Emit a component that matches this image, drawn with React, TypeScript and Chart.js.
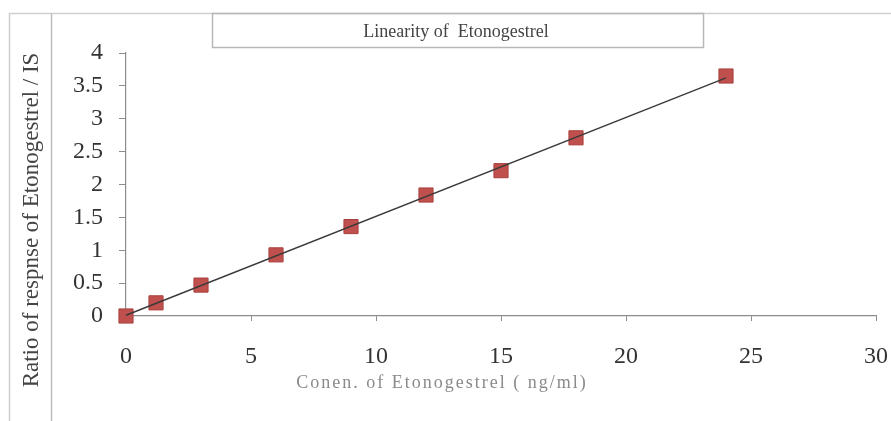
import React, { useEffect, useRef } from "react";
import { Chart, registerables } from "chart.js";

Chart.register(...registerables);

// Calibration data: concentration (ng/ml) vs. response ratio
const concentrations = [0, 1.2, 3, 6, 9, 12, 15, 18, 24];
const responseRatios = [0, 0.2, 0.47, 0.93, 1.36, 1.84, 2.21, 2.71, 3.65];

// Axis ticks
const xTickValues = [0, 5, 10, 15, 20, 25, 30];
const yTickValues = [0, 0.5, 1, 1.5, 2, 2.5, 3, 3.5, 4];

// Texts
const chartTitle = "Linearity of  Etonogestrel";
const xAxisTitle = "Conen. of Etonogestrel ( ng/ml)";
const yAxisTitle = "Ratio of respnse of Etonogestrel / IS";

// Least-squares fit through the calibration points
function linearFit(xs: number[], ys: number[]) {
  const n = xs.length;
  const mx = xs.reduce((a, b) => a + b, 0) / n;
  const my = ys.reduce((a, b) => a + b, 0) / n;
  let sxy = 0;
  let sxx = 0;
  for (let i = 0; i < n; i++) {
    sxy += (xs[i] - mx) * (ys[i] - my);
    sxx += (xs[i] - mx) * (xs[i] - mx);
  }
  const slope = sxy / sxx;
  return { slope, intercept: my - slope * mx };
}

const SERIF = '"Liberation Serif", "Times New Roman", serif';

// Frame, title box and axis titles
const decorPlugin = {
  id: "decor",
  beforeDraw(chart: any) {
    const ctx: CanvasRenderingContext2D = chart.ctx;
    const w = chart.width;
    const h = chart.height;
    ctx.save();
    ctx.fillStyle = "#ffffff";
    ctx.fillRect(0, 0, w, h);

    // outer frame
    ctx.lineWidth = 1.5;
    ctx.strokeStyle = "#cfcfcf";
    ctx.beginPath();
    ctx.moveTo(9.5, h);
    ctx.lineTo(9.5, 13.5);
    ctx.lineTo(w, 13.5);
    ctx.stroke();

    ctx.strokeStyle = "#bdbdbd";
    ctx.beginPath();
    ctx.moveTo(51.5, h);
    ctx.lineTo(51.5, 13.5);
    ctx.stroke();

    // title box
    ctx.strokeStyle = "#b8b8b8";
    ctx.strokeRect(212.5, 13.5, 491, 34);

    // chart title
    ctx.fillStyle = "#444444";
    ctx.font = `18px ${SERIF}`;
    ctx.textAlign = "center";
    ctx.textBaseline = "alphabetic";
    ctx.fillText(chartTitle, 456, 36.5);

    // x axis title
    ctx.fillStyle = "#8a8a8a";
    ctx.font = `18px ${SERIF}`;
    (ctx as any).letterSpacing = "2px";
    ctx.textBaseline = "middle";
    ctx.fillText(xAxisTitle, 442, 383);
    (ctx as any).letterSpacing = "0px";

    // y axis title
    ctx.translate(32, 220);
    ctx.rotate(-Math.PI / 2);
    ctx.fillStyle = "#444444";
    ctx.font = `23px ${SERIF}`;
    ctx.textAlign = "center";
    ctx.textBaseline = "middle";
    ctx.fillText(yAxisTitle, 0, 0);
    ctx.restore();
  },
};

export default function App() {
  const canvasRef = useRef<HTMLCanvasElement | null>(null);

  useEffect(() => {
    const canvas = canvasRef.current;
    if (!canvas) return;
    const fit = linearFit(concentrations, responseRatios);
    const xStart = concentrations[0];
    const xEnd = concentrations[concentrations.length - 1];

    const chart = new Chart(canvas, {
      type: "scatter",
      data: {
        datasets: [
          {
            label: "Linear fit",
            data: [
              { x: xStart, y: fit.intercept + fit.slope * xStart },
              { x: xEnd, y: fit.intercept + fit.slope * xEnd },
            ],
            showLine: true,
            borderColor: "#3a3a3a",
            borderWidth: 1.4,
            pointRadius: 0,
            clip: false,
          },
          {
            label: "Etonogestrel",
            data: concentrations.map((x, i) => ({ x, y: responseRatios[i] })),
            pointStyle: "rect",
            pointRadius: 10,
            backgroundColor: "#c0504d",
            borderColor: "#a8403d",
            borderWidth: 1,
            showLine: false,
            clip: false,
          },
        ],
      },
      options: {
        responsive: false,
        animation: false,
        events: [],
        layout: { padding: { top: 53, right: 15, left: 0, bottom: 0 } },
        plugins: {
          legend: { display: false },
          title: { display: false },
          tooltip: { enabled: false },
        },
        scales: {
          x: {
            type: "linear",
            min: 0,
            max: 30,
            afterFit: (scale: any) => {
              scale.height = 105;
              scale.paddingLeft = 0;
              scale.paddingRight = 0;
            },
            afterBuildTicks: (scale: any) => {
              scale.ticks = xTickValues.map((v) => ({ value: v }));
            },
            grid: {
              drawOnChartArea: false,
              drawTicks: true,
              tickLength: 5,
              color: "#8c8c8c",
            },
            border: { display: true, color: "#8c8c8c", width: 1.2 },
            ticks: {
              color: "#333333",
              font: { family: SERIF, size: 24 },
              padding: 21,
              maxRotation: 0,
              callback: (v: any) => String(v),
            },
          },
          y: {
            type: "linear",
            min: 0,
            max: 4,
            afterFit: (scale: any) => {
              scale.width = 126;
              scale.paddingTop = 0;
              scale.paddingBottom = 0;
            },
            afterBuildTicks: (scale: any) => {
              scale.ticks = yTickValues.map((v) => ({ value: v }));
            },
            grid: {
              drawOnChartArea: false,
              drawTicks: true,
              tickLength: 7,
              color: "#8c8c8c",
            },
            border: { display: true, color: "#8c8c8c", width: 1.2 },
            ticks: {
              color: "#333333",
              font: { family: SERIF, size: 24 },
              padding: 16,
              callback: (v: any) => String(v),
            },
          },
        },
      },
      plugins: [decorPlugin],
    });

    return () => chart.destroy();
  }, []);

  return (
    <div style={{ position: "fixed", left: 0, top: 0, width: 891, height: 421, background: "#fff" }}>
      <canvas ref={canvasRef} width={891} height={421} style={{ width: 891, height: 421, display: "block" }} />
    </div>
  );
}
